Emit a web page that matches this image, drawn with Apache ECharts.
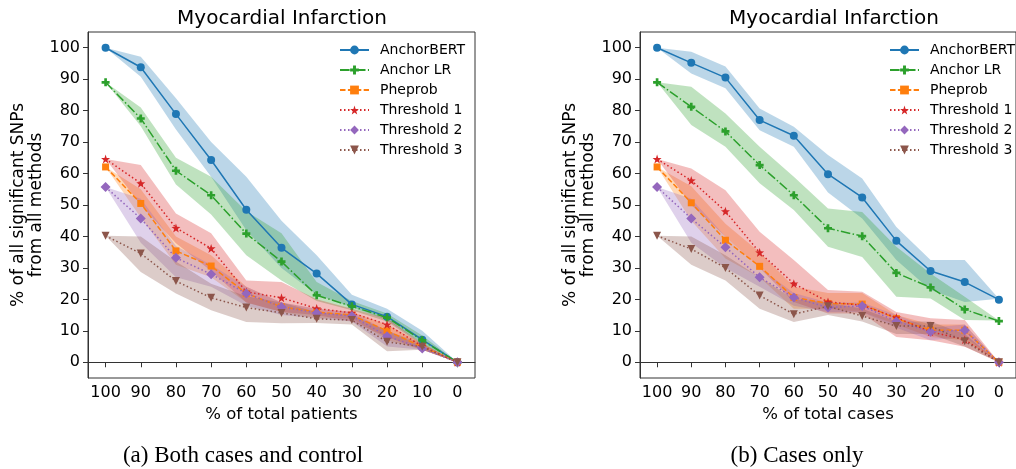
<!DOCTYPE html>
<html>
<head>
<meta charset="utf-8">
<script src="https://cdn.jsdelivr.net/npm/echarts@6/dist/echarts.min.js"></script>
<style>html,body{margin:0;padding:0;background:#fff;}#c{width:1016px;height:469px;}</style>
</head>
<body>
<div id="c"></div>
<script>
// ---- data ----
const categories = ['100','90','80','70','60','50','40','30','20','10','0'];
const yTicks = [0,10,20,30,40,50,60,70,80,90,100];
const methods = ['AnchorBERT','Anchor LR','Pheprob','Threshold 1','Threshold 2','Threshold 3'];

// Panel (a): Both cases and control
const bertA    = [100, 93.8, 78.9, 64.3, 48.5, 36.4, 28.2, 18.4, 14.5, 7.2, 0];
const bertA_hi = [100, 97.1, 83.9, 70.0, 59.0, 45.0, 34.0, 21.5, 17.0, 10.0, 0];
const bertA_lo = [100, 90.8, 74.0, 59.0, 42.0, 30.0, 21.5, 17.5, 13.4, 6.0, 0];
const lrA      = [89, 77.5, 60.9, 53.1, 40.9, 32.0, 21.3, 17.8, 14.2, 7.0, 0];
const lrA_hi   = [89, 81.0, 65.0, 59.0, 48.0, 41.0, 25.5, 19.5, 15.5, 8.5, 0];
const lrA_lo   = [89, 75.0, 56.5, 47.0, 34.0, 26.0, 19.5, 16.5, 13.0, 5.5, 0];
const phA      = [62.1, 50.5, 35.4, 30.6, 21.9, 17.6, 16.0, 15.0, 10.0, 4.9, 0];
const phA_hi   = [62.1, 55.0, 40.0, 34.0, 24.0, 19.0, 17.0, 16.0, 12.0, 6.0, 0];
const phA_lo   = [62.1, 46.0, 31.0, 27.0, 19.0, 16.0, 14.0, 14.0, 7.0, 4.0, 0];
const t1A      = [64.6, 56.9, 42.7, 36.2, 22.4, 20.5, 17.1, 15.7, 12.0, 5.1, 0];
const t1A_hi   = [64.6, 62.7, 47.3, 41.0, 26.0, 25.5, 20.0, 17.0, 14.0, 6.0, 0];
const t1A_lo   = [64.6, 50.0, 37.8, 29.0, 19.0, 16.0, 15.0, 13.0, 8.0, 4.0, 0];
const t2A      = [55.7, 45.7, 33.2, 28.0, 21.9, 17.6, 15.7, 14.7, 8.3, 4.4, 0];
const t2A_hi   = [55.7, 52.0, 37.0, 31.0, 24.0, 19.0, 17.0, 16.0, 10.0, 5.0, 0];
const t2A_lo   = [55.7, 38.0, 27.0, 24.0, 18.0, 15.0, 14.0, 13.0, 5.0, 4.0, 0];
const t3A      = [40.2, 34.6, 25.8, 20.5, 17.4, 15.7, 13.8, 13.4, 6.5, 4.9, 0];
const t3A_hi   = [40.2, 40.0, 32.0, 25.0, 21.0, 19.0, 16.0, 15.0, 10.0, 6.0, 0];
const t3A_lo   = [40.2, 28.7, 21.9, 16.5, 12.8, 12.4, 12.5, 12.0, 3.5, 4.0, 0];

// Panel (b): Cases only
const bertB    = [100, 95.2, 90.5, 77.0, 72.0, 59.8, 52.4, 38.6, 29.0, 25.5, 19.9];
const bertB_hi = [100, 98.7, 94.0, 80.7, 74.9, 65.9, 58.4, 43.0, 32.5, 32.5, 20.2];
const bertB_lo = [100, 91.8, 87.1, 73.8, 68.5, 54.0, 45.7, 32.5, 23.0, 19.2, 19.6];
const lrB      = [89, 81.2, 73.4, 62.7, 53.1, 42.6, 40.1, 28.4, 23.8, 16.8, 13.1];
const lrB_hi   = [89, 87.6, 79.1, 68.5, 59.0, 48.9, 47.8, 36.7, 28.2, 20.8, 13.3];
const lrB_lo   = [89, 75.4, 68.5, 56.9, 48.4, 36.7, 33.5, 20.8, 20.3, 13.4, 12.9];
const phB      = [62.1, 50.7, 38.8, 30.5, 20.6, 18.7, 18.5, 13.9, 10.2, 10.2, 0];
const phB_hi   = [62.1, 56.0, 44.0, 35.0, 24.0, 22.0, 22.0, 15.0, 12.0, 12.0, 0];
const phB_lo   = [62.1, 45.0, 33.0, 27.0, 17.0, 17.0, 16.0, 12.0, 8.0, 7.0, 0];
const t1B      = [64.6, 57.8, 48.0, 34.9, 25.0, 19.2, 18.1, 14.2, 9.7, 7.2, 0];
const t1B_hi   = [64.6, 61.6, 54.7, 41.5, 32.5, 23.0, 22.4, 16.0, 14.0, 13.4, 0];
const t1B_lo   = [64.6, 50.0, 40.0, 30.0, 19.2, 15.5, 15.5, 8.0, 7.0, 4.9, 0];
const t2B      = [55.7, 45.7, 36.6, 27.0, 20.6, 17.4, 17.9, 13.0, 9.7, 10.2, 0];
const t2B_hi   = [55.7, 52.0, 40.0, 30.0, 22.0, 19.0, 19.0, 15.0, 11.0, 12.0, 0];
const t2B_lo   = [55.7, 38.0, 30.0, 24.0, 18.0, 16.0, 16.0, 11.0, 7.0, 8.0, 0];
const t3B      = [40.2, 36.0, 30.0, 21.2, 15.3, 17.8, 14.7, 11.5, 11.5, 6.7, 0];
const t3B_hi   = [40.2, 40.0, 34.0, 27.0, 20.0, 19.0, 17.0, 13.0, 13.0, 9.0, 0];
const t3B_lo   = [40.2, 31.0, 26.0, 17.0, 12.8, 15.0, 13.0, 9.0, 9.0, 5.0, 0];

// ---- styles ----
const FONT = 'DejaVu Sans';
const PLUS = 'path://M-1,-3H1V-1H3V1H1V3H-1V1H-3V-1H-1Z';
const STAR = 'path://M0,-10L2.35,-3.24L9.51,-3.09L3.8,1.24L5.88,8.09L0,4L-5.88,8.09L-3.8,1.24L-9.51,-3.09L-2.35,-3.24Z';
const TRI_DOWN = 'path://M0,0L10,0L5,9Z';
const styles = {
  'AnchorBERT':  {color:'#1f77b4', band:'rgba(31,119,180,0.3)',  dash:'solid',         symbol:'circle',  size:8},
  'Anchor LR':   {color:'#2ca02c', band:'rgba(44,160,44,0.3)',   dash:[9.6,2.4,1.5,2.4], symbol:PLUS,   size:8},
  'Pheprob':     {color:'#ff7f0e', band:'rgba(255,127,14,0.3)',  dash:[5.5,2.4],       symbol:'rect',    size:7},
  'Threshold 1': {color:'#d62728', band:'rgba(214,39,40,0.3)',   dash:[1.5,2.5],       symbol:STAR,      size:9},
  'Threshold 2': {color:'#9467bd', band:'rgba(148,103,189,0.3)', dash:[1.5,2.5],       symbol:'diamond', size:10},
  'Threshold 3': {color:'#8c564b', band:'rgba(140,86,75,0.3)',   dash:[1.5,2.5],       symbol:TRI_DOWN,  size:8}
};
const panelA = [[bertA,bertA_hi,bertA_lo],[lrA,lrA_hi,lrA_lo],[phA,phA_hi,phA_lo],[t1A,t1A_hi,t1A_lo],[t2A,t2A_hi,t2A_lo],[t3A,t3A_hi,t3A_lo]];
const panelB = [[bertB,bertB_hi,bertB_lo],[lrB,lrB_hi,lrB_lo],[phB,phB_hi,phB_lo],[t1B,t1B_hi,t1B_lo],[t2B,t2B_hi,t2B_lo],[t3B,t3B_hi,t3B_lo]];

const series = [];
function addPanel(idx, panel) {
  panel.forEach((d, k) => {
    const name = methods[k], st = styles[name];
    const stack = 'p' + idx + '_' + k;
    series.push({type:'line', name:name+'_lo'+idx, xAxisIndex:idx, yAxisIndex:idx, stack:stack,
      data:d[2], symbol:'none', lineStyle:{opacity:0}, silent:true, z:1, animation:false});
    series.push({type:'line', name:name+'_band'+idx, xAxisIndex:idx, yAxisIndex:idx, stack:stack,
      data:d[1].map((v,i)=>v-d[2][i]), symbol:'none', lineStyle:{opacity:0},
      areaStyle:{color:st.band, opacity:1}, silent:true, z:1, animation:false});
  });
  panel.forEach((d, k) => {
    const name = methods[k], st = styles[name];
    series.push({type:'line', name:name, xAxisIndex:idx, yAxisIndex:idx, data:d[0],
      symbol:st.symbol, symbolSize:st.size, showSymbol:true,
      lineStyle:{color:st.color, width:1.5, type:st.dash},
      itemStyle:{color:st.color, borderWidth:0}, z:3 + k*0.01, animation:false});
  });
}
addPanel(0, panelA);
addPanel(1, panelB);

function xAxis(idx, name) {
  return {type:'category', gridIndex:idx, data:categories, boundaryGap:true,
    name:name, nameLocation:'middle', nameGap:21,
    nameTextStyle:{fontFamily:FONT, fontSize:16.5, color:'#000'},
    axisLine:{show:true, lineStyle:{color:'#333', width:1}},
    axisTick:{show:true, alignWithLabel:true, length:5, lineStyle:{color:'#333'}},
    axisLabel:{interval:0, margin:7, fontFamily:FONT, fontSize:16, color:'#000'},
    splitLine:{show:false}};
}
function yAxis(idx) {
  return {type:'value', gridIndex:idx, min:-5, max:105,
    name:'% of all significant SNPs\nfrom all methods', nameLocation:'middle', nameGap:39,
    nameTextStyle:{fontFamily:FONT, fontSize:17, color:'#000', lineHeight:18},
    axisLine:{show:true, lineStyle:{color:'#333', width:1}},
    axisTick:{show:true, length:5, customValues:yTicks, lineStyle:{color:'#333'}},
    axisLabel:{margin:8, customValues:yTicks, fontFamily:FONT, fontSize:16, color:'#000'},
    splitLine:{show:false}};
}
function legend(left, top) {
  return {orient:'vertical', left:left, top:top, padding:0, data:methods, itemWidth:29, itemHeight:11, itemGap:2,
    textStyle:{fontFamily:FONT, fontSize:14, lineHeight:18, color:'#000', padding:[0,0,0,6]},
    selectedMode:false};
}

const option = {
  animation:false,
  grid:[
    {left:88, top:32, width:387, height:346, show:true, borderColor:'#333', borderWidth:1, backgroundColor:'transparent'},
    {left:640, top:32, width:387, height:346, show:true, borderColor:'#333', borderWidth:1, backgroundColor:'transparent'}
  ],
  xAxis:[xAxis(0,'% of total patients'), xAxis(1,'% of total cases')],
  yAxis:[yAxis(0), yAxis(1)],
  legend:[legend(339,41), legend(889,41)],
  graphic:[
    {type:'text', x:282, y:19, style:{text:'Myocardial Infarction', font:'20px "DejaVu Sans"', fill:'#000', textAlign:'center', textVerticalAlign:'middle'}},
    {type:'text', x:834, y:19, style:{text:'Myocardial Infarction', font:'20px "DejaVu Sans"', fill:'#000', textAlign:'center', textVerticalAlign:'middle'}},
    {type:'text', x:243, y:456, style:{text:'(a) Both cases and control', font:'23px "Liberation Serif"', fill:'#000', textAlign:'center', textVerticalAlign:'middle'}},
    {type:'text', x:797, y:456, style:{text:'(b) Cases only', font:'23px "Liberation Serif"', fill:'#000', textAlign:'center', textVerticalAlign:'middle'}}
  ],
  series:series
};
const chart = echarts.init(document.getElementById('c'), null, {renderer:'canvas'});
chart.setOption(option);
</script>
</body>
</html>
